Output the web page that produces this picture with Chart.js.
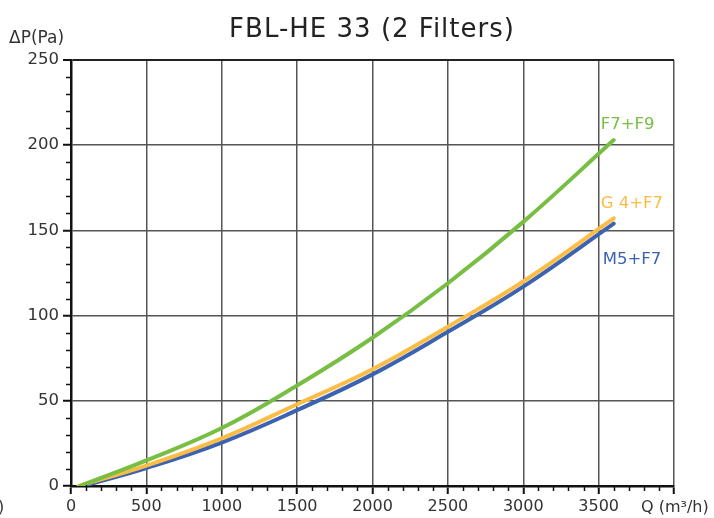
<!DOCTYPE html>
<html>
<head>
<meta charset="utf-8">
<script src="https://cdn.jsdelivr.net/npm/chart.js@4/dist/chart.umd.min.js"></script>
<style>
  html, body { margin: 0; padding: 0; background: #fff; }
  #wrap { width: 714px; height: 518px; }
</style>
</head>
<body>
<div id="wrap"><canvas id="chart" width="714" height="518"></canvas></div>
<script>
// Airflow (m3/h) and pressure drop (Pa)
const qF7F9 = [60, 500, 1000, 1500, 2000, 2500, 3000, 3600];
const pF7F9 = [0, 15, 34, 59, 87, 119, 155, 203];

const qG4F7 = [50, 500, 1000, 1500, 2000, 2500, 3000, 3600];
const pG4F7 = [0, 12, 28, 48, 68.5, 93.5, 120, 157];

const qM5F7 = [80, 500, 1000, 1500, 2000, 2500, 3000, 3600];
const pM5F7 = [0, 10.5, 25.5, 44.5, 65.5, 90.5, 117, 154];

const seriesNames = ["F7+F9", "G 4+F7", "M5+F7"];
const seriesColors = ["#78be43", "#fbbd45", "#3b63b1"];

const xTicks = [0, 500, 1000, 1500, 2000, 2500, 3000, 3500, 4000];
const yTicks = [0, 50, 100, 150, 200, 250];

const FONT = "'DejaVu Sans', sans-serif";

function toPoints(xs, ys) {
  return xs.map((x, i) => ({ x: x, y: ys[i] }));
}

// label offsets relative to the end of each curve
const labelOffsets = [[-13, -15], [-13, -15], [-11, 36]];

const extrasPlugin = {
  id: "extras",
  afterDraw(chart) {
    const ctx = chart.ctx;
    const area = chart.chartArea;
    const xs = chart.scales.x;
    const ys = chart.scales.y;
    ctx.save();

    // minor ticks
    ctx.strokeStyle = "#111";
    ctx.lineWidth = 1.5;
    for (let v = 100; v < 4000; v += 100) {
      if (v % 500 === 0) continue;
      const px = Math.round(xs.getPixelForValue(v)) + 0.5;
      ctx.beginPath();
      ctx.moveTo(px, area.bottom - 1);
      ctx.lineTo(px, area.bottom + 5);
      ctx.stroke();
    }
    for (let v = 10; v < 250; v += 10) {
      if (v % 50 === 0) continue;
      const py = Math.round(ys.getPixelForValue(v)) + 0.5;
      ctx.beginPath();
      ctx.moveTo(area.left - 5, py);
      ctx.lineTo(area.left + 1, py);
      ctx.stroke();
    }

    // title
    ctx.fillStyle = "#222";
    ctx.font = "26px " + FONT;
    ctx.letterSpacing = "1px";
    ctx.textAlign = "center";
    ctx.textBaseline = "middle";
    ctx.fillText("FBL-HE 33 (2 Filters)", 372, 30);
    ctx.letterSpacing = "0px";

    // axis titles
    ctx.font = "17px " + FONT;
    ctx.fillStyle = "#333";
    ctx.textAlign = "left";
    ctx.fillText("\u0394P(Pa)", 9, 39);
    ctx.font = "16px " + FONT;
    ctx.fillText("Q (m\u00b3/h)", 641, 508);
    ctx.fillText(")", -2, 508);

    // series labels
    ctx.font = "16.5px " + FONT;
    chart.data.datasets.forEach((ds, i) => {
      const last = ds.data[ds.data.length - 1];
      const px = xs.getPixelForValue(last.x) + labelOffsets[i][0];
      const py = ys.getPixelForValue(last.y) + labelOffsets[i][1];
      ctx.fillStyle = seriesColors[i];
      ctx.fillText(seriesNames[i], px, py);
    });
    ctx.restore();
  }
};

const lineDataset = (xs, ys, i) => ({
  label: seriesNames[i],
  data: toPoints(xs, ys),
  borderColor: seriesColors[i],
  backgroundColor: seriesColors[i],
  borderWidth: 4,
  pointRadius: 0,
  tension: 0.4,
  borderCapStyle: "round",
  fill: false,
  showLine: true
});

new Chart(document.getElementById("chart"), {
  type: "scatter",
  data: {
    datasets: [
      lineDataset(qF7F9, pF7F9, 0),
      lineDataset(qG4F7, pG4F7, 1),
      lineDataset(qM5F7, pM5F7, 2)
    ]
  },
  options: {
    responsive: false,
    animation: false,
    layout: { padding: { left: 0, right: 40, top: 60, bottom: 0 } },
    plugins: { legend: { display: false }, tooltip: { enabled: false }, title: { display: false } },
    scales: {
      x: {
        type: "linear",
        min: 0,
        max: 4000,
        afterFit(scale) { scale.height = 32; },
        afterBuildTicks(scale) { scale.ticks = xTicks.map(v => ({ value: v })); },
        ticks: {
          autoSkip: false,
          maxRotation: 0,
          padding: 3,
          color: "#333",
          font: { family: FONT, size: 16 },
          callback: v => (v === 4000 ? "" : v)
        },
        grid: {
          color: c => (c.tick && c.tick.value === 0 ? "rgba(0,0,0,0)" : "#555"),
          lineWidth: 1.5,
          tickLength: 8,
          tickColor: "#111",
          tickWidth: 2
        },
        border: { color: "#111", width: 2.5 }
      },
      y: {
        type: "linear",
        min: 0,
        max: 250,
        afterFit(scale) { scale.width = 71; },
        afterBuildTicks(scale) { scale.ticks = yTicks.map(v => ({ value: v })); },
        ticks: {
          autoSkip: false,
          padding: 4,
          color: "#333",
          font: { family: FONT, size: 16.5 }
        },
        grid: {
          color: c => (c.tick && c.tick.value === 250 ? "#222" : (c.tick && c.tick.value === 0 ? "rgba(0,0,0,0)" : "#555")),
          lineWidth: c => (c.tick && c.tick.value === 250 ? 2 : 1.5),
          tickLength: 8,
          tickColor: "#111",
          tickWidth: 2
        },
        border: { color: "#111", width: 2.5 }
      }
    }
  },
  plugins: [extrasPlugin]
});
</script>
</body>
</html>
